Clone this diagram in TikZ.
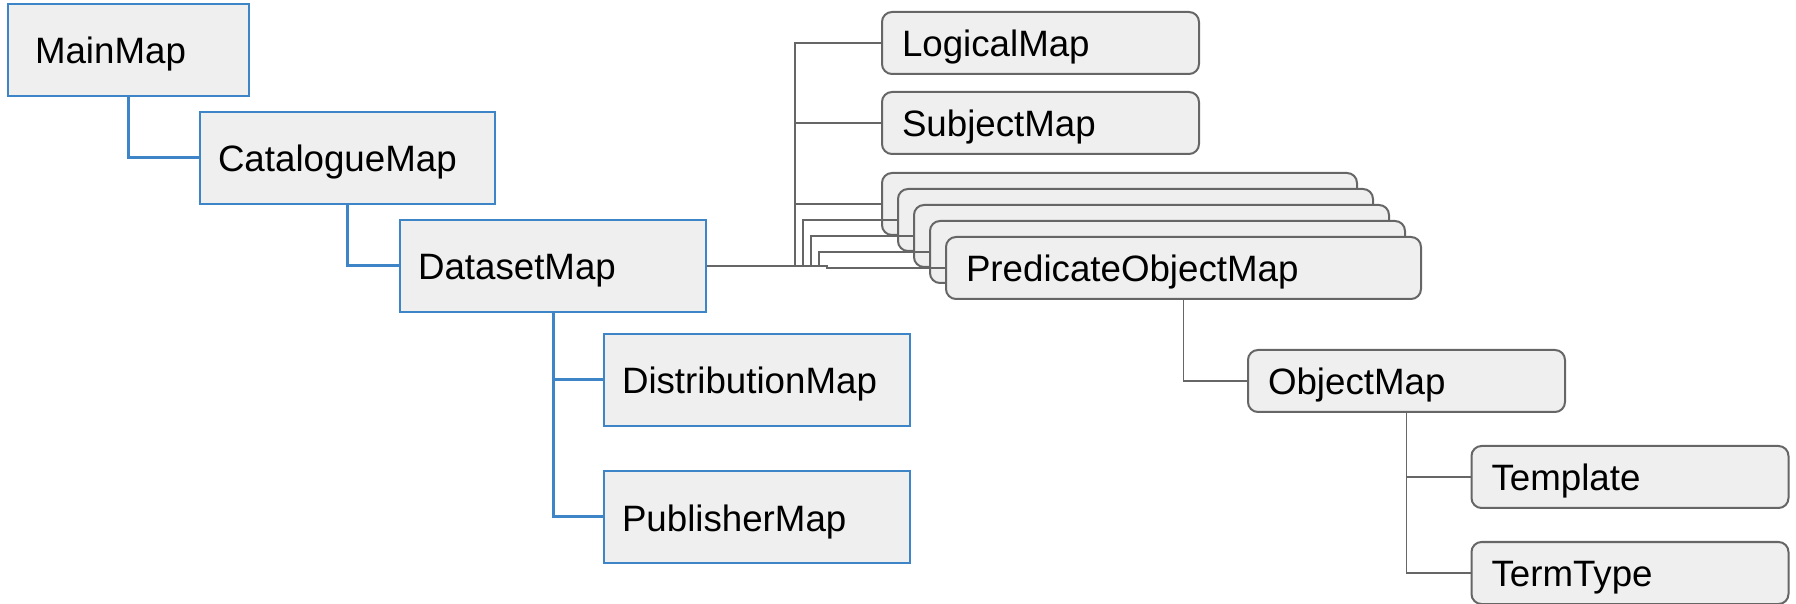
\documentclass[tikz,border=0pt]{standalone}
\usepackage{fontspec}
\setmainfont{Liberation Sans}
\definecolor{mapblue}{HTML}{3D85C6}
\definecolor{mapgray}{HTML}{666666}
\definecolor{mapfill}{HTML}{EFEFEF}
\begin{document}
\begin{tikzpicture}
      [
        x = 0.5pt, y = -0.5pt,
        mapbox/.style = {fill = mapfill, align = left, text height = 14pt, text depth = 0pt,
            font = \fontsize{18.35pt}{22pt}\selectfont},
        bluebox/.style = {mapbox, draw = mapblue, line width = 1pt, minimum height = 46pt, inner xsep = 9pt},
        graybox/.style = {mapbox, draw = mapgray, line width = 1pt, minimum height = 31pt, inner xsep = 10pt,
            rounded corners = 5pt},
        blueline/.style = {draw = mapblue, line width = 1.5pt},
        grayline/.style = {draw = mapgray, line width = 0.75pt},
      ]

      \useasboundingbox (0,0) rectangle (1796,604);

      % blue part
      \node[bluebox, inner xsep = 13.5pt, text width = 93.5pt] (main) at (128.5,50) {MainMap};
      \node[bluebox, text width = 129.5pt] (catalogue) at (347.5,158) {CatalogueMap};
      \node[bluebox, text width = 135pt] (dataset) at (553,266) {DatasetMap};
      \node[bluebox, text width = 135pt] (distribution) at (757,380) {DistributionMap};
      \node[bluebox, text width = 135pt] (publisher) at (757,517) {PublisherMap};

      \draw[blueline] (main.south) |- (catalogue.west);
      \draw[blueline] (catalogue.south) |- (dataset.west);
      \draw[blueline] (dataset.south) |- (distribution.west);
      \draw[blueline] (dataset.south) |- (publisher.west);

      % gray part
      \node[graybox, text width = 138.5pt] (logical) at (1040.5,43) {LogicalMap};
      \node[graybox, text width = 138.5pt] (subject) at (1040.5,123) {SubjectMap};
      \node[graybox, text width = 217.5pt] (pom0) at (1119.5,204) {};
      \node[graybox, text width = 217.5pt] (pom1) at (1135.5,220) {};
      \node[graybox, text width = 217.5pt] (pom2) at (1151.5,236) {};
      \node[graybox, text width = 217.5pt] (pom3) at (1167.5,252) {};
      \node[graybox, text width = 217.5pt] (pom4) at (1183.5,268) {PredicateObjectMap};
      \node[graybox, text width = 138.5pt] (object) at (1406.5,381) {ObjectMap};
      \node[graybox, text width = 138.5pt] (template) at (1630,477) {Template};
      \node[graybox, text width = 138.5pt] (termtype) at (1630,573) {TermType};

      \draw[grayline] (dataset.east) -- ++(88,0) |- (logical.west);
      \draw[grayline] (dataset.east) -- ++(88,0) |- (subject.west);
      \draw[grayline] (dataset.east) -- ++(88,0) |- (pom0.west);
      \draw[grayline] (dataset.east) -- ++(96,0) |- (pom1.west);
      \draw[grayline] (dataset.east) -- ++(104,0) |- (pom2.west);
      \draw[grayline] (dataset.east) -- ++(112,0) |- (pom3.west);
      \draw[grayline] (dataset.east) -- ++(120,0) |- (pom4.west);

      \draw[grayline] (pom4.south) |- (object.west);
      \draw[grayline] (object.south) |- (template.west);
      \draw[grayline] (object.south) |- (termtype.west);

    \end{tikzpicture}
\end{document}
